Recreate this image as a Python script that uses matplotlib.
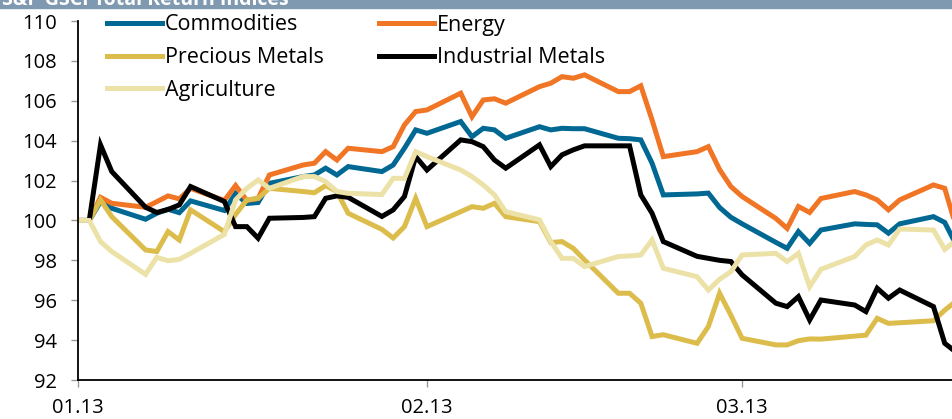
import matplotlib
matplotlib.use('Agg')
import matplotlib.pyplot as plt
import matplotlib.dates as mdates
import pandas as pd

# S&P GSCI total return indices, rebased to 100 at 01.01.2013
dates = pd.to_datetime([
    '2013-01-01', '2013-01-02', '2013-01-03', '2013-01-04', '2013-01-07', '2013-01-08',
    '2013-01-09', '2013-01-10', '2013-01-11', '2013-01-14', '2013-01-15', '2013-01-16',
    '2013-01-17', '2013-01-18', '2013-01-21', '2013-01-22', '2013-01-23', '2013-01-24',
    '2013-01-25', '2013-01-28', '2013-01-29', '2013-01-30', '2013-01-31', '2013-02-01',
    '2013-02-04', '2013-02-05', '2013-02-06', '2013-02-07', '2013-02-08', '2013-02-11',
    '2013-02-12', '2013-02-13', '2013-02-14', '2013-02-15', '2013-02-18', '2013-02-19',
    '2013-02-20', '2013-02-21', '2013-02-22', '2013-02-25', '2013-02-26', '2013-02-27',
    '2013-02-28', '2013-03-01', '2013-03-04', '2013-03-05', '2013-03-06', '2013-03-07',
    '2013-03-08', '2013-03-11', '2013-03-12', '2013-03-13', '2013-03-14', '2013-03-15',
    '2013-03-18', '2013-03-19', '2013-03-20'])

commodities = [100, 100, 100.94, 100.61, 100.06, 100.36, 100.56, 100.39, 100.98, 100.5,
               101.35, 100.85, 100.9, 101.86, 102.2, 102.28, 102.62, 102.28, 102.7, 102.45,
               102.78, 103.62, 104.54, 104.37, 104.96, 104.2, 104.62, 104.54, 104.12, 104.7,
               104.54, 104.62, 104.6, 104.6, 104.12, 104.1, 104.04, 102.87, 101.28, 101.33,
               101.37, 100.65, 100.16, 99.83, 98.9, 98.6, 99.44, 98.85, 99.52, 99.83,
               99.8, 99.78, 99.36, 99.83, 100.19, 99.9, 98.8]

energy = [100, 100, 101.16, 100.86, 100.66, 100.94, 101.23, 101.08, 101.61, 101.0,
          101.75, 101.0, 101.1, 102.28, 102.78, 102.87, 103.45, 103.03, 103.62, 103.45,
          103.7, 104.79, 105.46, 105.54, 106.38, 105.2, 106.04, 106.1, 105.88, 106.71,
          106.88, 107.21, 107.13, 107.3, 106.46, 106.46, 106.75, 105.04, 103.2, 103.45,
          103.7, 102.55, 101.7, 101.2, 100.1, 99.6, 100.7, 100.4, 101.1, 101.45,
          101.28, 101.03, 100.53, 101.03, 101.78, 101.61, 99.7]

precious_metals = [100, 100, 101.03, 100.19, 98.52, 98.44, 99.44, 99.02, 100.53, 99.44,
                   100.3, 101.03, 101.11, 101.61, 101.45, 101.39, 101.75, 101.45, 100.36, 99.55,
                   99.12, 99.69, 101.11, 99.69, 100.44, 100.69, 100.61, 100.86, 100.19, 99.94,
                   98.89, 98.94, 98.6, 98.02, 96.35, 96.35, 95.85, 94.18, 94.27, 93.84,
                   94.68, 96.35, 95.25, 94.09, 93.76, 93.76, 93.97, 94.06, 94.05, 94.2,
                   94.25, 95.09, 94.84, 94.87, 94.97, 95.5, 95.95]

industrial_metals = [100, 100, 103.79, 102.45, 100.66, 100.4, 100.55, 100.78, 101.7, 100.95,
                     99.69, 99.69, 99.11, 100.11, 100.15, 100.19, 101.11, 101.23, 101.16, 100.2,
                     100.53, 101.2, 103.2, 102.53, 104.04, 103.95, 103.7, 103.03, 102.62, 103.79,
                     102.7, 103.29, 103.54, 103.74, 103.74, 103.74, 101.28, 100.36, 98.94, 98.2,
                     98.1, 98.0, 97.94, 97.27, 95.85, 95.68, 96.18, 95.01, 96.01, 95.76,
                     95.43, 96.6, 96.1, 96.51, 95.68, 93.84, 93.4]

agriculture = [100, 100, 98.94, 98.44, 97.3, 98.15, 97.98, 98.05, 98.35, 99.3,
               101.03, 101.61, 102.03, 101.61, 102.2, 102.2, 101.95, 101.45, 101.36, 101.3,
               102.11, 102.11, 103.45, 103.2, 102.53, 102.2, 101.78, 101.28, 100.44, 100.03,
               98.94, 98.1, 98.1, 97.69, 98.19, 98.22, 98.27, 99.02, 97.6, 97.18,
               96.51, 97.05, 97.43, 98.27, 98.35, 97.94, 98.35, 96.68, 97.55, 98.19,
               98.77, 99.02, 98.77, 99.57, 99.52, 98.55, 99.0]

series_names = ['Commodities', 'Energy', 'Precious Metals', 'Industrial Metals', 'Agriculture']
series_colors = ['#006892', '#f07524', '#dcbd4c', '#000000', '#ece2a8']

FONT = 'Open Sans'
plt.rcParams['font.family'] = [FONT, 'DejaVu Sans']

fig = plt.figure(figsize=(9.52, 4.19), dpi=100)
ax = fig.add_axes([78 / 952, 39 / 419, 1 - 78 / 952, 359 / 419])

all_series = [commodities, energy, precious_metals, industrial_metals, agriculture]
lines = {}
for name, vals, col in zip(series_names, all_series, series_colors):
    lines[name], = ax.plot(dates, vals, color=col, lw=3.6, label=name, solid_joinstyle='miter')

# x range: chart is cut off on the right a bit before 20.03
ax.set_xlim(pd.Timestamp('2013-01-01'), pd.Timestamp('2013-03-19 15:30'))
ax.set_ylim(92, 110)
ax.set_yticks(range(92, 111, 2))
ax.xaxis.set_major_locator(mdates.MonthLocator())
ax.xaxis.set_major_formatter(mdates.DateFormatter('%m.%y'))

for s in ['top', 'right']:
    ax.spines[s].set_visible(False)
ax.spines['left'].set_linewidth(1.3)
ax.spines['bottom'].set_linewidth(1.3)
ax.tick_params(axis='y', length=5, width=1, color='#999999', pad=10, labelsize=14.5)
ax.tick_params(axis='x', length=5, width=1, color='#999999', pad=8, labelsize=14.5)

# legend is filled column by column: left column 3 entries, right column 2
leg_order = ['Commodities', 'Precious Metals', 'Agriculture', 'Energy', 'Industrial Metals']
leg = ax.legend([lines[n] for n in leg_order], leg_order, ncol=2, loc='upper left',
                bbox_to_anchor=(107 / 952, 1 - 14.5 / 419), bbox_transform=fig.transFigure,
                frameon=False, fontsize=15.5, handlelength=2.55, handletextpad=0.15,
                columnspacing=2.55, labelspacing=0.54, borderpad=0, borderaxespad=0)

# grey header band, mostly cut off at the top
fig.patches.append(plt.Rectangle((0, 1 - 8 / 419), 1, 8 / 419, transform=fig.transFigure,
                                 color='#7f99b1', zorder=0))
fig.text(2 / 952, 1 - 5 / 419, 'S&P GSCI Total Return Indices', color='white',
         fontsize=14, fontweight='bold', va='baseline', ha='left')

fig.savefig('out.png', dpi=100)
